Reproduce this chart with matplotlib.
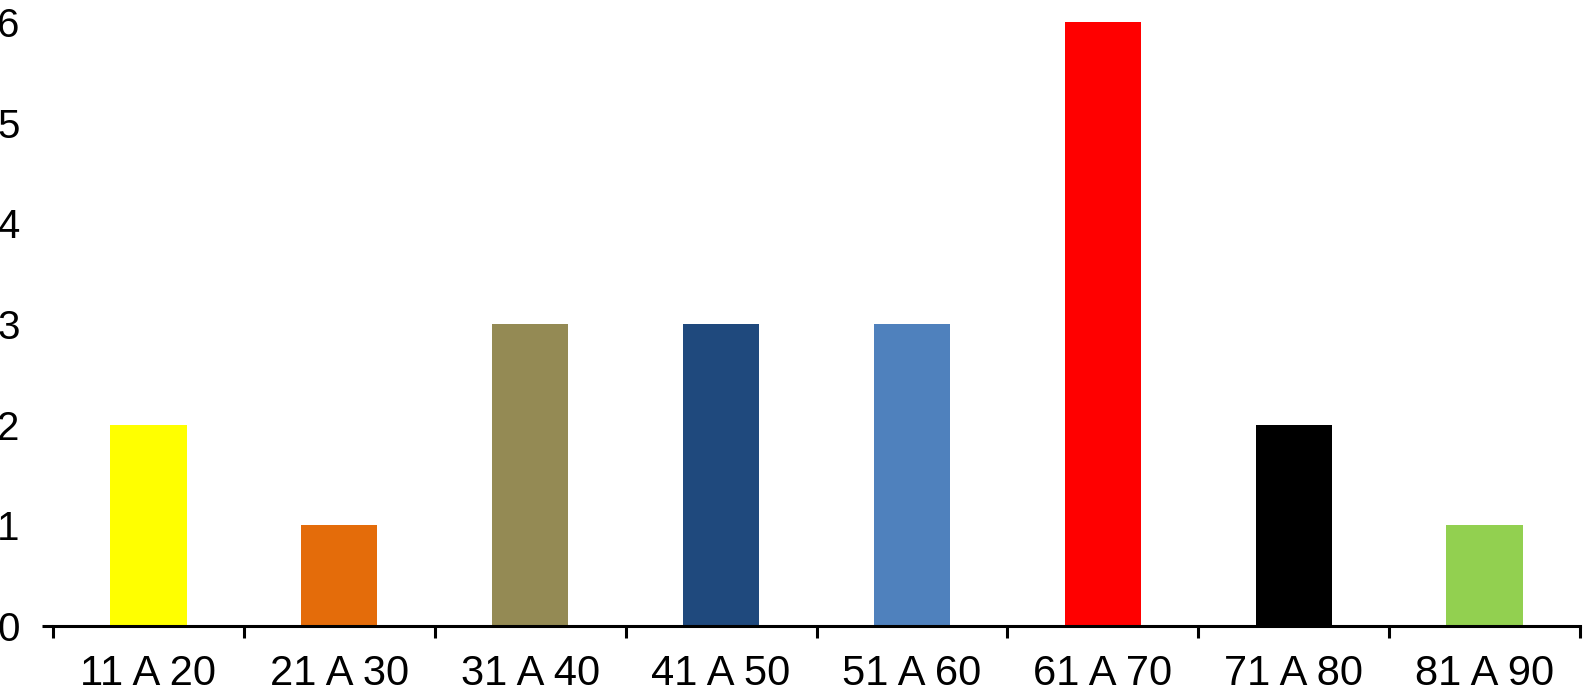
import matplotlib
matplotlib.use("Agg")
import matplotlib.pyplot as plt

categories = ["11 A 20", "21 A 30", "31 A 40", "41 A 50", "51 A 60", "61 A 70", "71 A 80", "81 A 90"]
values = [2, 1, 3, 3, 3, 6, 2, 1]
colors = ["#FFFF00", "#E46C0A", "#948A54", "#1F497D", "#4F81BD", "#FF0000", "#000000", "#92D050"]

plt.rcParams['font.family'] = ['Liberation Sans', 'DejaVu Sans']

W, H = 1583, 697
fig = plt.figure(figsize=(W / 100, H / 100), dpi=100)
left, right, top, bottom = 53, 1580, 22, 626
ax = fig.add_axes([left / W, 1 - bottom / H, (right - left) / W, (bottom - top) / H])

x = list(range(len(categories)))
ax.bar(x, values, width=0.4, color=colors)

ax.set_xlim(-0.5, len(categories) - 0.5)
ax.set_ylim(0, 6)
for s in ["top", "right", "left"]:
    ax.spines[s].set_visible(False)
ax.spines["bottom"].set_linewidth(2.2)

ax.set_xticks([i - 0.5 for i in range(len(categories) + 1)])
ax.set_xticklabels([])
ax.set_xticks(x, minor=True)
ax.set_xticklabels(categories, minor=True, fontsize=30)
ax.tick_params(axis="x", which="major", length=8.6, width=2.2, direction="out")
ax.tick_params(axis="x", which="minor", length=0, pad=20)

ax.set_yticks(range(0, 7))
ax.tick_params(axis="y", length=0, pad=24, labelsize=29)

# small extension of the axis line to the left
ax.plot([-0.5 - 11 / 190.9, -0.5], [0, 0], color="black", lw=2.2, clip_on=False, solid_capstyle="butt")

fig.savefig("out.png", dpi=100)
